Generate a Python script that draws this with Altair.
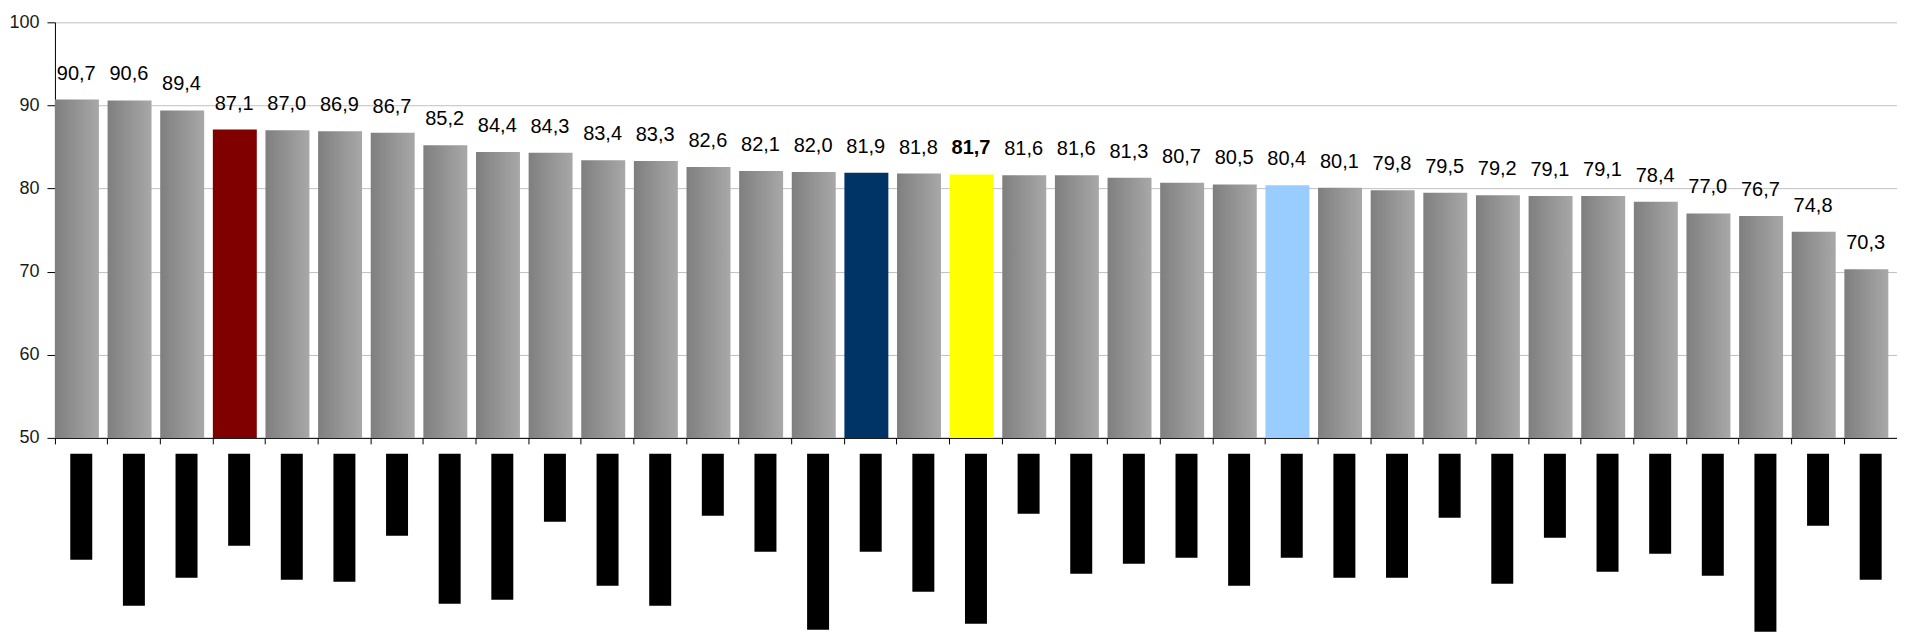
import altair as alt
import pandas as pd

# Category labels are not legible in the reference (shown as black blocks);
# rank identifiers are used as categories.
categories = ["01", "02", "03", "04", "05", "06", "07", "08", "09", "10",
              "11", "12", "13", "14", "15", "16", "17", "18", "19", "20",
              "21", "22", "23", "24", "25", "26", "27", "28", "29", "30",
              "31", "32", "33", "34", "35"]

values = [90.7, 90.6, 89.4, 87.1, 87.0, 86.9, 86.7, 85.2, 84.4, 84.3,
          83.4, 83.3, 82.6, 82.1, 82.0, 81.9, 81.8, 81.7, 81.6, 81.6,
          81.3, 80.7, 80.5, 80.4, 80.1, 79.8, 79.5, 79.2, 79.1, 79.1,
          78.4, 77.0, 76.7, 74.8, 70.3]

groups = ["other", "other", "other", "h1", "other", "other", "other", "other", "other", "other",
          "other", "other", "other", "other", "other", "h2", "other", "focus", "other", "other",
          "other", "other", "other", "h3", "other", "other", "other", "other", "other", "other",
          "other", "other", "other", "other", "other"]

# lengths of the (illegible) category label blocks
label_len = [106, 152, 124, 92, 126, 128, 82, 150, 146, 68,
             132, 152, 62, 98, 176, 98, 138, 170, 60, 120,
             110, 104, 132, 104, 124, 124, 64, 130, 84, 118,
             100, 122, 178, 72, 126]

df = pd.DataFrame({"cat": categories, "value": values, "group": groups, "label_len": label_len})

W = 1844
H = 416
band = W / len(categories)
bar_w = 44
bar_off = -(band - bar_w) / 2
FONT = "Liberation Sans"

gradient = alt.Gradient(
    gradient="linear",
    stops=[alt.GradientStop(color="#7f7f7f", offset=0),
           alt.GradientStop(color="#a8a8a8", offset=1)],
    x1=0, x2=1, y1=0, y2=0,
)

x_top = alt.X(
    "cat:N", sort=categories,
    scale=alt.Scale(domain=categories, paddingInner=0, paddingOuter=0),
    axis=alt.Axis(labels=False, title=None, ticks=True, tickSize=6, tickColor="black",
                  domainColor="black", bandPosition=0, grid=False),
)
y_top = alt.Y(
    "value:Q",
    scale=alt.Scale(domain=[50, 100], nice=False, zero=False),
    axis=alt.Axis(values=[50, 60, 70, 80, 90, 100], title=None, tickSize=8,
                  labelFontSize=18, labelPadding=8, labelFont=FONT, labelColor="#1a1a1a",
                  gridColor="#c0c0c0", domainColor="black", tickColor="black"),
)

base = alt.Chart(df).encode(x=x_top, y=y_top)

grey_bars = base.transform_filter("datum.group == 'other'").mark_bar(
    color=gradient, width=alt.RelativeBandSize(bar_w / band), xOffset=bar_off
).encode(y2=alt.datum(50))
hi_bars = base.transform_filter("datum.group != 'other'").mark_bar(
    width=alt.RelativeBandSize(bar_w / band), xOffset=bar_off
).encode(
    y2=alt.datum(50),
    color=alt.Color("group:N",
                    scale=alt.Scale(domain=["h1", "h2", "focus", "h3"],
                                    range=["#800000", "#003366", "#FFFF00", "#99CCFF"]),
                    legend=None)
)

labels = base.transform_calculate(
    label="replace(format(datum.value, '.1f'), '.', ',')"
)
txt_normal = labels.transform_filter("datum.group != 'focus'").mark_text(
    baseline="alphabetic", dy=-20, fontSize=20, font=FONT, color="black", xOffset=-5
).encode(text="label:N")
txt_bold = labels.transform_filter("datum.group == 'focus'").mark_text(
    baseline="alphabetic", dy=-20, fontSize=20, font=FONT, color="black", xOffset=-5,
    fontWeight="bold"
).encode(text="label:N")

top = alt.layer(grey_bars, hi_bars, txt_normal, txt_bold).properties(width=W, height=H)

bottom = alt.Chart(df).mark_bar(
    color="black", width=alt.RelativeBandSize(22 / band)
).encode(
    x=alt.X("cat:N", sort=categories,
            scale=alt.Scale(domain=categories, paddingInner=0, paddingOuter=0), axis=None),
    y=alt.Y("label_len:Q", scale=alt.Scale(domain=[0, 178], reverse=True, nice=False, zero=True), axis=None),
).properties(width=W, height=178)

chart = alt.vconcat(top, bottom, spacing=7).properties(
    padding={"left": 0, "top": 5, "right": 0, "bottom": 0}
).configure_view(stroke=None)

chart.save("out.html", embed_options={"renderer": "svg", "actions": False})
